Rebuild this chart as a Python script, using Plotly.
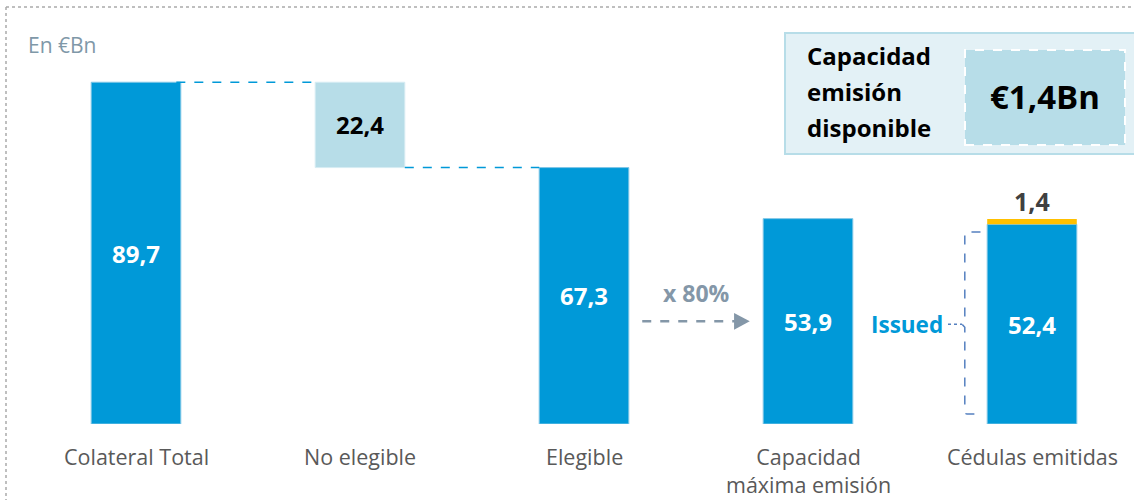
import plotly.graph_objects as go

# ---- data ----
categories = ["Colateral Total", "No elegible", "Elegible", "Capacidad<br>máxima emisión", "Cédulas emitidas"]
colateral_total = 89.7
no_elegible = 22.4
elegible = 67.3
capacidad_max = 53.9
cedulas_emitidas = 52.4
capacidad_disponible = 1.4
value_labels = ["89,7", "22,4", "67,3", "53,9", "52,4"]
disp_label = "1,4"
ratio_label = "x 80%"
box_value = "€1,4Bn"
box_title = ["Capacidad", "emisión", "disponible"]

BLUE = "#0099D8"
LIGHT = "#B7DDE8"
ORANGE = "#FFC000"
GREY_TXT = "#595959"
ARROW = "#8497A8"
BRACKET = "#5580C0"
FONT = "Open Sans"

W, H, B = 1134, 500, 76
PH = H - B  # plot height in px


def px(p):
    return p / W


def py(p):
    return 1 - p / PH


xs = list(range(len(categories)))
bw = 0.4

fig = go.Figure()
bar_line = dict(color="#7FC6E6", width=1)
# main blue bars
fig.add_trace(go.Bar(x=[xs[0], xs[2], xs[3], xs[4]],
                     y=[colateral_total, elegible, capacidad_max, cedulas_emitidas],
                     base=[0, 0, 0, 0], width=bw,
                     marker=dict(color=BLUE, line=bar_line), hoverinfo="skip"))
# floating no-elegible bar
fig.add_trace(go.Bar(x=[xs[1]], y=[no_elegible], base=[elegible], width=bw,
                     marker=dict(color=LIGHT, line=dict(color="#D6ECF3", width=1)), hoverinfo="skip"))
# available capacity on top of issued
fig.add_trace(go.Bar(x=[xs[4]], y=[capacidad_disponible], base=[cedulas_emitidas], width=bw,
                     marker=dict(color=ORANGE, line=dict(width=0)), hoverinfo="skip"))

ann = []
# value labels
vals = [(xs[0], colateral_total / 2, value_labels[0], "white"),
        (xs[1], elegible + no_elegible / 2, value_labels[1], "black"),
        (xs[2], elegible / 2, value_labels[2], "white"),
        (xs[3], capacidad_max / 2, value_labels[3], "white"),
        (xs[4], cedulas_emitidas / 2, value_labels[4], "white")]
for x, y, t, c in vals:
    ann.append(dict(x=x, y=y, text=f"<b>{t}</b>", showarrow=False,
                    font=dict(family=FONT, size=24, color=c)))
ann.append(dict(x=xs[4], y=cedulas_emitidas + capacidad_disponible, yanchor="bottom", yshift=-1,
                text=f"<b>{disp_label}</b>", showarrow=False,
                font=dict(family=FONT, size=25, color="#404040")))
# category labels
for x, c in zip(xs, categories):
    ann.append(dict(x=x, y=0, yanchor="top", yshift=-16, text=c, showarrow=False,
                    font=dict(family=FONT, size=21.5, color=GREY_TXT)))
# unit label
ann.append(dict(xref="paper", yref="paper", x=px(26), y=py(45), xanchor="left", yanchor="middle",
                text="En €Bn", showarrow=False, font=dict(family=FONT, size=21, color="#7F98A8")))
# x 80% text
ann.append(dict(x=(xs[2] + xs[3]) / 2, y=capacidad_max * 0.64, text=f"<b>{ratio_label}</b>",
                showarrow=False, font=dict(family=FONT, size=23, color=ARROW)))
# Issued
ann.append(dict(x=xs[4] - 0.39, y=cedulas_emitidas / 2, xanchor="right", text="<b>Issued</b>",
                showarrow=False, font=dict(family=FONT, size=22.5, color=BLUE)))
# box texts
for i, t in enumerate(box_title):
    ann.append(dict(xref="paper", yref="paper", x=px(805), y=py(55 + i * 36.5), xanchor="left",
                    yanchor="middle", text=f"<b>{t}</b>", showarrow=False,
                    font=dict(family=FONT, size=24, color="black")))
ann.append(dict(xref="paper", yref="paper", x=px(1045), y=py(97), xanchor="center", yanchor="middle",
                text=f"<b>{box_value}</b>", showarrow=False,
                font=dict(family=FONT, size=33, color="black")))

shapes = []
# connectors
shapes.append(dict(type="line", x0=xs[0] + bw / 2 - 0.02, x1=xs[1] - bw / 2, y0=colateral_total, y1=colateral_total,
                   line=dict(color=BLUE, width=1.5, dash="dash")))
shapes.append(dict(type="line", x0=xs[1] + bw / 2, x1=xs[2] - bw / 2, y0=elegible, y1=elegible,
                   line=dict(color=BLUE, width=1.5, dash="dash")))
# dashed arrow
ay = capacidad_max / 2
shapes.append(dict(type="line", x0=xs[2] + 0.26, x1=xs[3] - 0.32, y0=ay, y1=ay,
                   line=dict(color=ARROW, width=2.5, dash="dash")))
shapes.append(dict(type="path", path=f"M {xs[3]-0.33},{ay+2.2} L {xs[3]-0.26},{ay} L {xs[3]-0.33},{ay-2.2} Z",
                   fillcolor=ARROW, line=dict(width=0)))
# bracket
bx = xs[4] - 0.30
top = cedulas_emitidas - 2.0
bot = 2.6
mid = cedulas_emitidas / 2
shapes.append(dict(type="path",
                   path=(f"M {xs[4]-0.23},{top} L {bx+0.01},{top} Q {bx},{top} {bx},{top-1} "
                         f"L {bx},{mid+0.8} L {bx-0.012},{mid} L {bx},{mid-0.8} "
                         f"L {bx},{bot+1} Q {bx},{bot} {bx+0.01},{bot} L {xs[4]-0.23},{bot}"),
                   line=dict(color=BRACKET, width=1.5, dash="dash")))
shapes.append(dict(type="line", x0=xs[4] - 0.375, x1=bx - 0.012, y0=mid, y1=mid,
                   line=dict(color=BRACKET, width=1.5, dash="dot")))
# info box
shapes.append(dict(type="rect", xref="paper", yref="paper", x0=px(785), x1=px(1140), y0=py(154), y1=py(33),
                   fillcolor="#E3F1F6", line=dict(color="#B7DDE8", width=2), layer="below"))
shapes.append(dict(type="rect", xref="paper", yref="paper", x0=px(965), x1=px(1125), y0=py(145), y1=py(50),
                   fillcolor=LIGHT, line=dict(color="white", width=2, dash="dash"), layer="below"))
# dotted outer frame
shapes.append(dict(type="line", xref="paper", yref="paper", x0=px(6), x1=px(1134), y0=py(7), y1=py(7),
                   line=dict(color="#AAAAAA", width=1.5, dash="dot")))
shapes.append(dict(type="line", xref="paper", yref="paper", x0=px(6), x1=px(6), y0=py(7), y1=py(H),
                   line=dict(color="#AAAAAA", width=1.5, dash="dot")))

fig.update_layout(
    width=W, height=H, margin=dict(l=0, r=0, t=0, b=B),
    barmode="overlay", showlegend=False,
    plot_bgcolor="white", paper_bgcolor="white",
    xaxis=dict(range=[-136 / 224, 4 + 102 / 224], visible=False, fixedrange=True),
    yaxis=dict(range=[0, PH / 3.81], visible=False, fixedrange=True),
    annotations=ann, shapes=shapes,
)

fig.write_html("out.html", config={"displayModeBar": False},
               post_script="document.body.style.margin='0';document.body.style.overflow='hidden';")
